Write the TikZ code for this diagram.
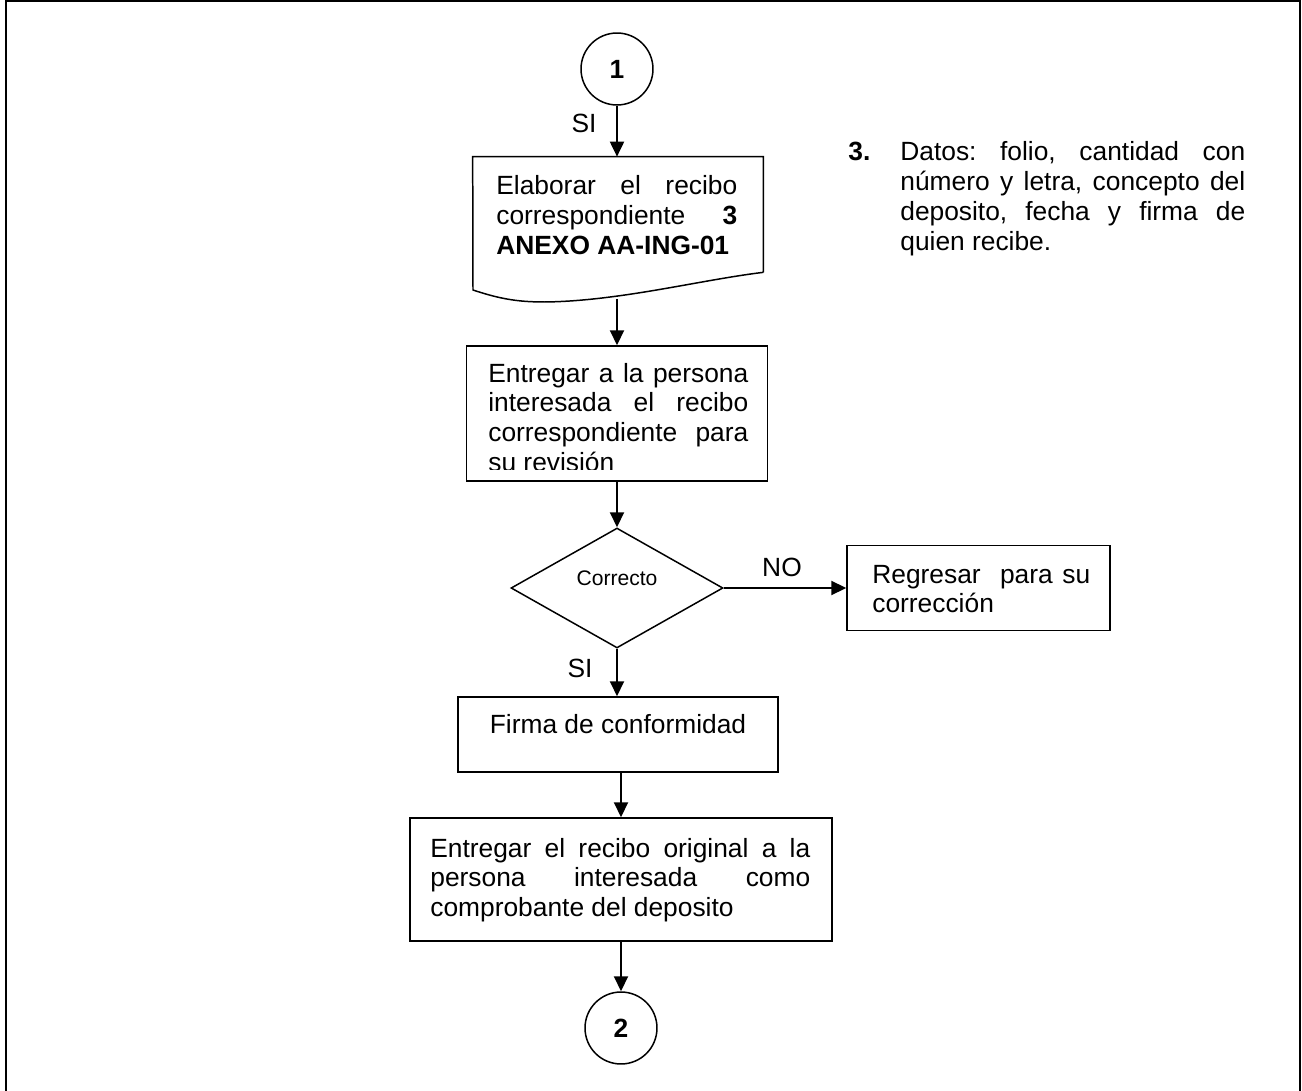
\documentclass[tikz,border=0pt]{standalone}
\usepackage{fontspec}
\setmainfont{Liberation Sans}
\usetikzlibrary{shapes.geometric,arrows.meta}
\frenchspacing

\begin{document}
\begin{tikzpicture}[x=0.02cm, y=-0.02cm,
        every node/.style={font=\fontsize{15}{17}\selectfont},
        box/.style={draw=black, line width=0.85pt, rectangle, minimum width=#1, inner sep=0pt},
        conector/.style={draw=black, line width=0.85pt, circle, minimum size=1.44cm, inner sep=0pt, font=\fontsize{15}{17}\selectfont\bfseries},
        txt/.style={anchor=base west, inner sep=0pt, text width=#1, align=justify},
        flecha/.style={draw=black, line width=1.1pt, -{Triangle[length=0.3cm, width=0.28cm]}},
        etiqueta/.style={anchor=base, inner sep=0pt}]
            \useasboundingbox (0,0) rectangle (1302,1091);
            \draw[draw=black, line width=1.3pt] (6,1091) -- (6,1) -- (1300,1) -- (1300,1091);
            \node[conector] (c1) at (617,69) {1};
            \node[rectangle, minimum width=5.8cm, minimum height=2.3cm, inner sep=0pt] (elab) at (618,214.5) {};
            \draw[draw=black, line width=0.85pt] (elab.south east) -- (elab.north east) -- (elab.north west) -- (473,290)
                .. controls (500,299) and (518,302) .. (545,302)
                .. controls (620,301) and (700,280) .. (elab.south east);
            \coordinate (elab-b) at (617,299);
            \node[txt=4.82cm] (t-elab) at (496,195) {Elaborar el recibo\linebreak correspondiente \textbf{3}\linebreak \textbf{ANEXO AA-ING-01}};
            \node[box=6.02cm, minimum height=2.7cm] (entrega) at (617,413.5) {};
            \begin{scope}
                \clip (467,346) rectangle (768,469);
                \node[txt=5.2cm] (t-entrega) at (488,382) {Entregar a la persona\linebreak interesada el recibo\linebreak correspondiente para\linebreak su revisión};
            \end{scope}
            \node[draw=black, line width=0.85pt, diamond, minimum width=4.24cm, minimum height=2.4cm, inner sep=0pt,
                text depth=0.4cm, font=\fontsize{12}{14}\selectfont] (correcto) at (617,588) {Correcto};
            \node[box=5.26cm, minimum height=1.7cm] (regresar) at (978.5,588) {};
            \node[txt=4.36cm] (t-regresar) at (872,583) {Regresar~ para su\linebreak corrección};
            \node[box=6.4cm, minimum height=1.5cm] (firma) at (618,734.5) {};
            \node[etiqueta] (t-firma) at (618,733) {Firma de conformidad};
            \node[box=8.44cm, minimum height=2.46cm] (original) at (621,879.5) {};
            \node[txt=7.6cm] (t-original) at (430,857) {Entregar el recibo original a la\linebreak persona interesada como\linebreak comprobante del deposito};
            \node[conector] (c2) at (621,1028) {2};
            \node[etiqueta, anchor=base west, font=\fontsize{15}{17}\selectfont\bfseries] (nota-num) at (848,161) {3.};
            \node[txt=6.9cm] (nota) at (900,161) {Datos: folio, cantidad con\linebreak número y letra, concepto del\linebreak deposito, fecha y firma de\linebreak quien recibe.};
            \draw[flecha] (c1.south) -- (c1 |- elab.north);
            \draw[flecha] (elab-b) -- (elab-b |- entrega.north);
            \draw[flecha] (entrega.south) -- (entrega |- correcto.north);
            \draw[flecha] (correcto.east) -- (correcto.east -| regresar.west);
            \draw[flecha] (correcto.south) -- (correcto |- firma.north);
            \draw[flecha] (original |- firma.south) -- (original.north);
            \draw[flecha] (original.south) -- (original |- c2.north);
            \node[etiqueta] (si-a) at (584,133) {SI};
            \node[etiqueta] (no) at (782,576) {NO};
            \node[etiqueta] (si-b) at (580,677) {SI};
        \end{tikzpicture}
\end{document}
